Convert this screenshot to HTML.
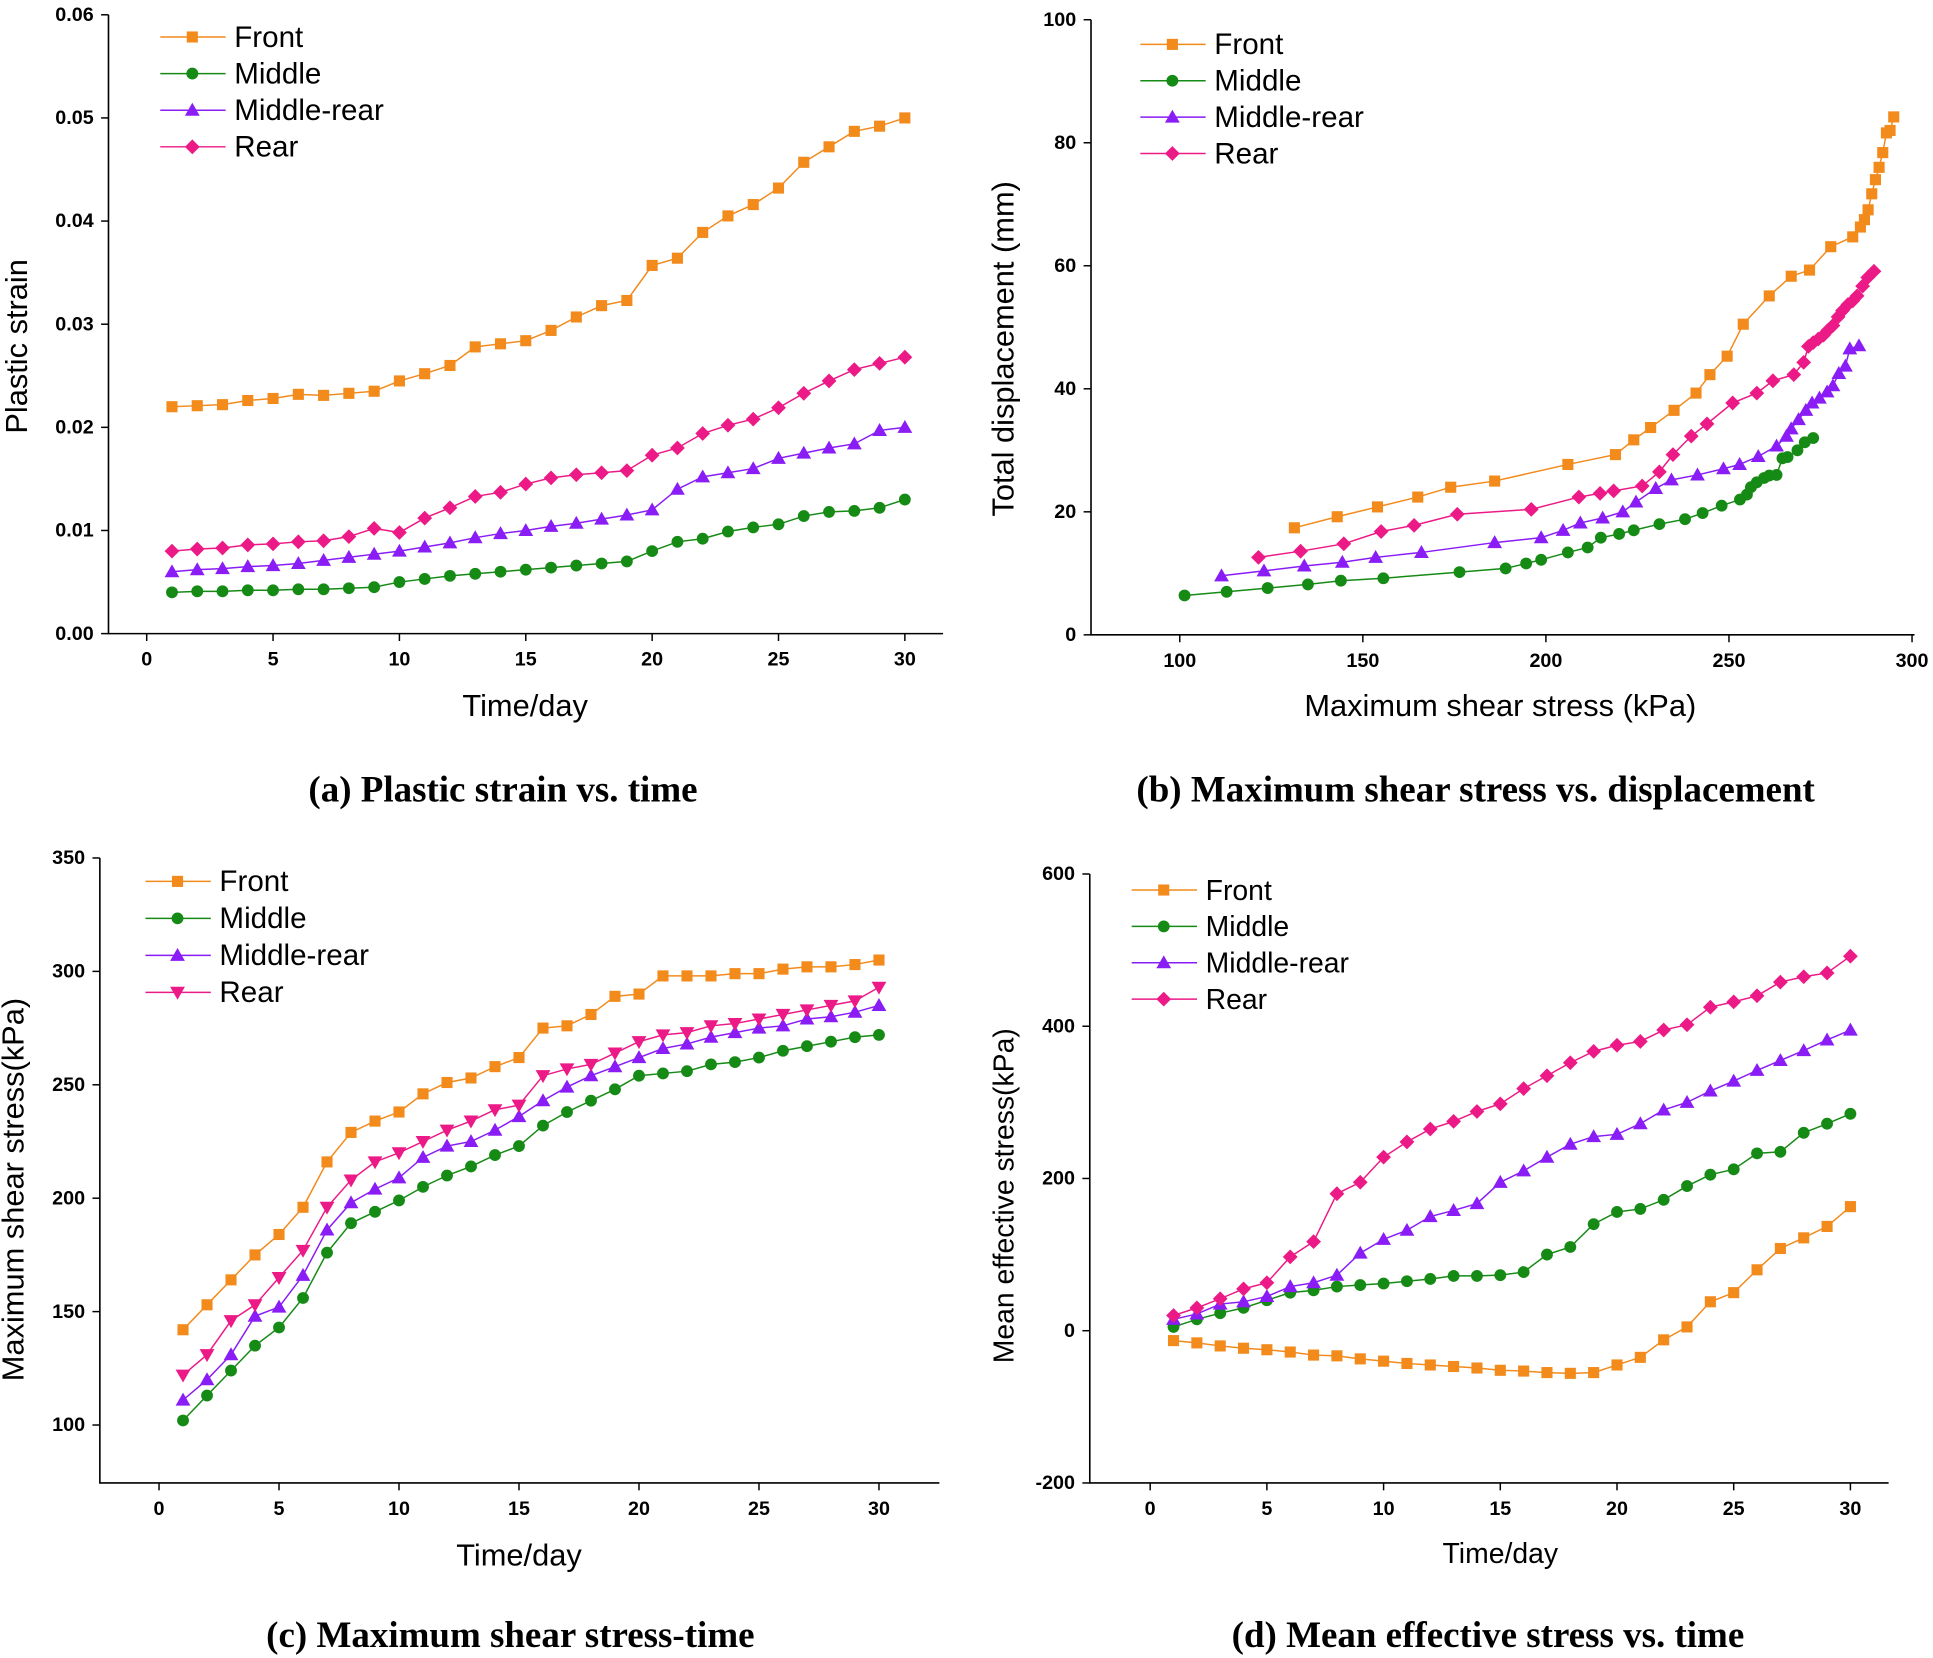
<!DOCTYPE html>
<html><head><meta charset="utf-8"><style>
html,body{margin:0;padding:0;background:#fff}
svg{display:block}
text{font-family:"Liberation Sans",Arial,sans-serif;fill:#000}
.tick{font-size:16px;font-weight:bold}
.cap{font-family:"Liberation Serif","Times New Roman",serif;font-weight:bold;font-size:30px}
</style></head><body>
<svg id="root" width="1933" height="1658" viewBox="0 0 1568 1345" preserveAspectRatio="none" xmlns="http://www.w3.org/2000/svg"></svg>
<script>
const days=[1,2,3,4,5,6,7,8,9,10,11,12,13,14,15,16,17,18,19,20,21,22,23,24,25,26,27,28,29,30];
const seriesNames=["Front","Middle","Middle-rear","Rear"];
// (a) plastic strain
const aFront=[0.022,0.0221,0.0222,0.0226,0.0228,0.0232,0.0231,0.0233,0.0235,0.0245,0.0252,0.026,0.0278,0.0281,0.0284,0.0294,0.0307,0.0318,0.0323,0.0357,0.0364,0.0389,0.0405,0.0416,0.0432,0.0457,0.0472,0.0487,0.0492,0.05];
const aMiddle=[0.004,0.0041,0.0041,0.0042,0.0042,0.0043,0.0043,0.0044,0.0045,0.005,0.0053,0.0056,0.0058,0.006,0.0062,0.0064,0.0066,0.0068,0.007,0.008,0.0089,0.0092,0.0099,0.0103,0.0106,0.0114,0.0118,0.0119,0.0122,0.013];
const aMidRear=[0.006,0.0062,0.0063,0.0065,0.0066,0.0068,0.0071,0.0074,0.0077,0.008,0.0084,0.0088,0.0093,0.0097,0.01,0.0104,0.0107,0.0111,0.0115,0.012,0.014,0.0152,0.0156,0.016,0.017,0.0175,0.018,0.0184,0.0197,0.02];
const aRear=[0.008,0.0082,0.0083,0.0086,0.0087,0.0089,0.009,0.0094,0.0102,0.0098,0.0112,0.0122,0.0133,0.0137,0.0145,0.0151,0.0154,0.0156,0.0158,0.0173,0.018,0.0194,0.0202,0.0208,0.0219,0.0233,0.0245,0.0256,0.0262,0.0268];
const aYTicks=["0.00","0.01","0.02","0.03","0.04","0.05","0.06"];
// (b) stress (x) vs displacement (y)
const bFrontX=[131.3,143,154,165,174,186,206,219,224,228.6,235,241,244.8,249.5,253.9,261,267,272,277.8,283.8,285.9,287,288,289,290,291,292,293,294,295];
const bFrontY=[17.4,19.2,20.8,22.4,24,25,27.7,29.3,31.7,33.7,36.5,39.3,42.3,45.3,50.5,55.1,58.3,59.3,63.1,64.7,66.3,67.5,69.1,71.7,74,76,78.4,81.6,82,84.2];
const bMiddleX=[101.3,112.8,124,135,144,155.6,176.4,189,194.6,198.7,206,211.4,215,220,224,231,238,242.8,248,253,254.9,256,257.6,259.6,261,263,264.6,266,268.7,270.7,273];
const bMiddleY=[6.4,7,7.6,8.2,8.8,9.2,10.2,10.8,11.6,12.2,13.4,14.2,15.8,16.4,17,18,18.8,19.8,21,22,22.8,24,24.8,25.5,25.9,26,28.7,28.9,30,31.3,32];
const bMidRearX=[111.4,123,134,144.4,153.5,166,186,198.7,204.7,209.4,215.5,221,224.6,230,234.3,241.4,248.5,252.9,258,263,265.7,267,269,271,272.7,274.7,276.8,278.4,280,281.8,283,285.5];
const bMidRearY=[9.6,10.4,11.2,11.8,12.6,13.4,15,15.8,17,18.2,19,20,21.6,23.8,25.2,26,27,27.7,29,30.7,32.3,33.5,35,36.5,37.7,38.5,39.5,40.5,42.5,43.7,46.5,47];
const bRearX=[121.5,133,144.8,155,164,175.8,196,209,214.8,218.5,226.3,231,234.7,239.7,244,251,257.6,262,267.7,270.4,271.7,273,274.4,275.8,277,278.4,279.8,281,282.5,283.8,285,286.5,287.9,289.6];
const bRearY=[12.6,13.6,14.8,16.8,17.8,19.6,20.4,22.4,23,23.4,24.2,26.5,29.3,32.3,34.3,37.7,39.3,41.3,42.3,44.3,46.9,47.5,48.1,48.7,49.5,50.3,51.7,52.7,53.7,54.3,55.1,56.7,58.1,59.1];
const bXTicks=[100,150,200,250,300];
const bYTicks=[0,20,40,60,80,100];
// (c) max shear stress
const cFront=[142,153,164,175,184,196,216,229,234,238,246,251,253,258,262,275,276,281,289,290,298,298,298,299,299,301,302,302,303,305];
const cMiddle=[102,113,124,135,143,156,176,189,194,199,205,210,214,219,223,232,238,243,248,254,255,256,259,260,262,265,267,269,271,272];
const cMidRear=[111,120,131,148,152,166,186,198,204,209,218,223,225,230,236,243,249,254,258,262,266,268,271,273,275,276,279,280,282,285];
const cRear=[122,131,146,153,165,177,196,208,216,220,225,230,234,239,241,254,257,259,264,269,272,273,276,277,279,281,283,285,287,293];
const cYTicks=[100,150,200,250,300,350];
// (d) mean effective stress
const dFront=[-13,-16,-20,-23,-25,-28,-32,-33,-37,-40,-43,-45,-47,-49,-52,-53,-55,-56,-55,-45,-35,-12,5,38,50,80,108,122,137,163];
const dMiddle=[5,15,23,30,40,50,53,58,60,62,65,68,72,72,73,77,100,110,140,156,160,172,190,205,212,233,235,260,272,285];
const dMidRear=[15,22,35,38,45,58,63,73,102,120,132,150,158,167,195,210,228,245,255,258,272,290,300,315,328,342,355,368,382,395];
const dRear=[20,30,42,55,63,97,117,180,195,228,248,265,275,288,298,318,335,352,367,375,380,395,402,425,432,440,458,465,470,492];
const dYTicks=[-200,0,200,400,600];
const dayTicks=[0,5,10,15,20,25,30];

const NS="http://www.w3.org/2000/svg";
const root=document.getElementById('root');
const COL=["#f28a1c","#158a15","#8a1cf5","#ec1a86"];
function mk(tag,attrs,parent){const e=document.createElementNS(NS,tag);for(const k in attrs)e.setAttribute(k,attrs[k]);(parent||root).appendChild(e);return e;}
function txt(s,attrs,parent){const e=mk('text',attrs,parent);e.textContent=s;return e;}
function marker(g,type,x,y,c){
  let e;
  if(type==='sq')e=mk('rect',{x:x-4.5,y:y-4.5,width:9,height:9,fill:c},g);
  else if(type==='ci')e=mk('circle',{cx:x,cy:y,r:4.8,fill:c},g);
  else if(type==='tu')e=mk('polygon',{points:`${x},${y-6} ${x+6},${y+4.5} ${x-6},${y+4.5}`,fill:c},g);
  else if(type==='td')e=mk('polygon',{points:`${x},${y+6} ${x+6},${y-4.5} ${x-6},${y-4.5}`,fill:c},g);
  else e=mk('polygon',{points:`${x},${y-6} ${x+6},${y} ${x},${y+6} ${x-6},${y}`,fill:c},g);
  
  
}
function panel(o){
  const g=mk('g',{});
  
  
  const sx=v=>o.x0+(v-o.xv0)*(o.x1-o.x0)/(o.xv1-o.xv0);
  const sy=v=>o.y0+(v-o.yv0)*(o.y1-o.y0)/(o.yv1-o.yv0);
  const ax=mk('path',{d:`M${o.L},${o.T} V${o.B} H${o.R}`,stroke:'#000','stroke-width':1.3,fill:'none'},g);
  
  o.xt.forEach(v=>{const x=sx(v);mk('line',{x1:x,y1:o.B,x2:x,y2:o.B+6,stroke:'#000','stroke-width':1.2},g);
    const t=txt(String(v),{x:x,y:o.B+26,'text-anchor':'middle',class:'tick'},g);});
  o.yt.forEach((v,i)=>{const y=sy(+v);mk('line',{x1:o.L,y1:y,x2:o.L-6,y2:y,stroke:'#000','stroke-width':1.2},g);
    const t=txt(String(v),{x:o.L-12,y:y+5,'text-anchor':'end',class:'tick'},g);});
  let t=txt(o.xtitle,{x:o.xtx,y:o.xty,'text-anchor':'middle','font-size':o.fs||25},g);
  
  t=txt(o.ytitle,{x:0,y:0,'text-anchor':'middle','font-size':o.fs||25,transform:`translate(${o.ytx},${o.yty}) rotate(-90)`},g);
  
  t=txt(o.cap,{x:o.capx,y:o.capy,'text-anchor':'middle',class:'cap'},g);
  
  o.series.forEach((s,i)=>{
    const sg=mk('g',{},g);
    
    
    const pts=s.y.map((v,j)=>[sx(s.x[j]),sy(v)]);
    const ln=mk('polyline',{points:pts.map(p=>p.join(',')).join(' '),stroke:COL[i],'stroke-width':1.2,fill:'none'},sg);
    
    pts.forEach(p=>marker(sg,o.mk[i],p[0],p[1],COL[i]));
    const ly=o.ly+i*o.ldy;
    const lg=mk('g',{},g);
    
    
    mk('line',{x1:o.lx,y1:ly,x2:o.lx+53,y2:ly,stroke:COL[i],'stroke-width':1.2},lg);
    marker(lg,o.mk[i],o.lx+26,ly,COL[i]);
    txt(seriesNames[i],{x:o.lx+60,y:ly+8,'font-size':o.lfs||24},lg);
  });
}
panel({name:'panel-a-plastic-strain',L:88,R:765,T:12,B:514,x0:119,x1:734,xv0:0,xv1:30,y0:514,y1:12,yv0:0,yv1:0.06,
  xt:dayTicks,yt:aYTicks,xtitle:'Time/day',xtx:426,xty:581,ytitle:'Plastic strain',ytx:22,yty:281,
  cap:'(a) Plastic strain vs. time',capx:408,capy:650,mk:['sq','ci','tu','di'],lx:130,ly:30,ldy:29.7,
  series:[{x:days,y:aFront},{x:days,y:aMiddle},{x:days,y:aMidRear},{x:days,y:aRear}]});
panel({name:'panel-b-displacement',L:885,R:1553,T:16,B:515,x0:957,x1:1551,xv0:100,xv1:300,y0:515,y1:16,yv0:0,yv1:100,
  xt:bXTicks,yt:bYTicks,xtitle:'Maximum shear stress (kPa)',xtx:1217,xty:581,ytitle:'Total displacement (mm)',ytx:822,yty:283,
  cap:'(b) Maximum shear stress vs. displacement',capx:1197,capy:650,mk:['sq','ci','tu','di'],lx:925,ly:36,ldy:29.5,
  series:[{x:bFrontX,y:bFrontY},{x:bMiddleX,y:bMiddleY},{x:bMidRearX,y:bMidRearY},{x:bRearX,y:bRearY}]});
panel({name:'panel-c-shear-stress',L:81,R:762,T:696,B:1203,x0:129,x1:713,xv0:0,xv1:30,y0:1156,y1:696,yv0:100,yv1:350,
  xt:dayTicks,yt:cYTicks,xtitle:'Time/day',xtx:421,xty:1270,ytitle:'Maximum shear stress(kPa)',ytx:19,yty:965,
  cap:'(c) Maximum shear stress-time',capx:414,capy:1336,mk:['sq','ci','tu','td'],lx:118,ly:715,ldy:30,
  series:[{x:days,y:cFront},{x:days,y:cMiddle},{x:days,y:cMidRear},{x:days,y:cRear}]});
panel({name:'panel-d-mean-effective-stress',L:884,R:1532,T:709,B:1203,x0:933,x1:1501,xv0:0,xv1:30,y0:1203,y1:709,yv0:-200,yv1:600,
  xt:dayTicks,yt:dYTicks,xtitle:'Time/day',xtx:1217,xty:1268,ytitle:'Mean effective stress(kPa)',ytx:822,yty:970,fs:23,lfs:23,
  cap:'(d) Mean effective stress vs. time',capx:1207,capy:1336,mk:['sq','ci','tu','di'],lx:918,ly:722,ldy:29.5,
  series:[{x:days,y:dFront},{x:days,y:dMiddle},{x:days,y:dMidRear},{x:days,y:dRear}]});
</script>
</body></html>
